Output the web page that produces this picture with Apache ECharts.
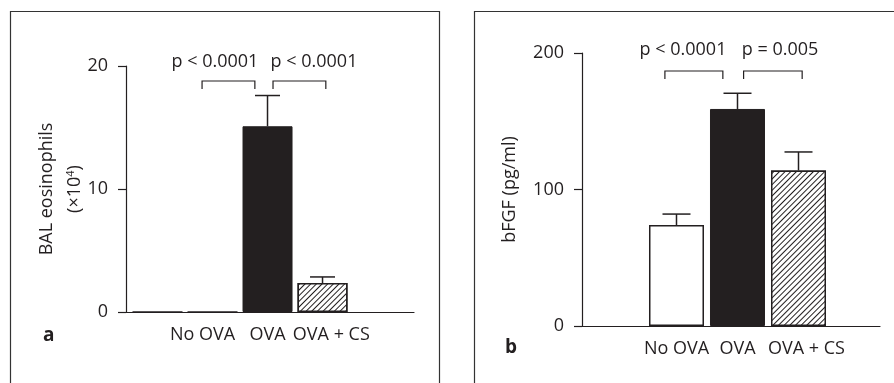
<!DOCTYPE html>
<html>
<head>
<meta charset="utf-8">
<script src="https://cdn.jsdelivr.net/npm/echarts@6/dist/echarts.min.js"></script>
<style>
  html, body { margin: 0; padding: 0; background: #fff; }
  #chart { width: 894px; height: 383px; }
</style>
</head>
<body>
<div id="chart"></div>
<script>
// groups
var categories = ['No OVA', 'OVA', 'OVA + CS'];
var barPos = [1, 2, 3, 4];

// panel a: BAL eosinophils (x10^4)
var eosMean = [0, 0, 15.1, 2.35];
var eosUpper = [0, 0, 17.6, 2.85];
var eosTicks = [0, 10, 20];

// panel b: bFGF (pg/ml), first slot is empty
var fgfMean = [null, 74, 159, 114];
var fgfUpper = [null, 82, 170.5, 127.5];
var fgfTicks = [0, 100, 200];

// p value brackets [from, to, height]
var eosBrackets = [[1.81, 2.77, 18.78], [3.1, 4.06, 18.78]];
var eosPText = ['p < 0.0001', 'p < 0.0001'];
var fgfBrackets = [[1.81, 2.76, 186.8], [3.1, 4.06, 186.8]];
var fgfPText = ['p < 0.0001', 'p = 0.005'];

var ink = '#231f20';
var font = '"Open Sans", "Noto Sans", sans-serif';
var fs = 18;

var hatch = {
  symbol: 'rect', symbolSize: 1, color: ink, backgroundColor: '#fff',
  dashArrayX: [1, 0], dashArrayY: [1, 2.2], rotation: -Math.PI / 4
};
// white, black, hatched bar styles
var styles = {
  open: { color: '#fff', borderColor: ink, borderWidth: 1.5 },
  solid: { color: ink, borderColor: ink, borderWidth: 1 },
  hatched: { color: '#fff', borderColor: ink, borderWidth: 1.5, decal: hatch }
};
var eosStyle = ['open', 'open', 'solid', 'hatched'];
var fgfStyle = ['open', 'open', 'solid', 'hatched'];

function barData(mean, st) {
  var out = [];
  for (var i = 0; i < mean.length; i++) {
    if (mean[i] == null) continue;
    out.push({ value: [barPos[i], mean[i]], itemStyle: styles[st[i]] });
  }
  return out;
}
function errData(mean, upper) {
  var out = [];
  for (var i = 0; i < mean.length; i++) {
    if (mean[i] == null || upper[i] <= mean[i]) continue;
    out.push([barPos[i], mean[i], upper[i]]);
  }
  return out;
}
function errSeries(idx, data, cap) {
  return {
    type: 'custom', xAxisIndex: idx, yAxisIndex: idx, data: data, clip: false, z: 1,
    renderItem: function (params, api) {
      var lo = api.coord([api.value(0), api.value(1)]);
      var hi = api.coord([api.value(0), api.value(2)]);
      var st = { stroke: ink, lineWidth: 1.5 };
      return { type: 'group', children: [
        { type: 'line', shape: { x1: lo[0], y1: lo[1], x2: hi[0], y2: hi[1] }, style: st },
        { type: 'line', shape: { x1: hi[0] - cap / 2, y1: hi[1], x2: hi[0] + cap / 2, y2: hi[1] }, style: st }
      ] };
    }
  };
}
// bracket + its p value text; textX is where the text is centred
function bracketSeries(idx, br, txt, textX, dy) {
  var data = br.map(function (b, i) { return [b[0], b[1], b[2], textX[i]]; });
  return {
    type: 'custom', xAxisIndex: idx, yAxisIndex: idx, data: data, clip: false,
    renderItem: function (params, api) {
      var a = api.coord([api.value(0), api.value(2)]);
      var b = api.coord([api.value(1), api.value(2)]);
      var t = api.coord([api.value(3), api.value(2)]);
      return { type: 'group', children: [
        { type: 'polyline', shape: { points: [[a[0], a[1] + 8], a, b, [b[0], b[1] + 8]] },
          style: { stroke: ink, lineWidth: 1.2, fill: null } },
        { type: 'text', x: t[0], y: t[1] + dy,
          style: { text: txt[params.dataIndex], fill: ink, font: fs + 'px ' + font,
            textAlign: 'center', textVerticalAlign: 'middle' } }
      ] };
    }
  };
}
function xAxis(idx, min, max, labelPos) {
  return {
    type: 'value', gridIndex: idx, min: min, max: max,
    splitLine: { show: false }, axisTick: { show: false },
    axisLine: { lineStyle: { color: ink, width: 1.2 } },
    axisLabel: {
      customValues: labelPos, margin: 14, color: ink, fontFamily: font, fontSize: fs,
      formatter: function (v) { return categories[labelPos.indexOf(v)]; }
    }
  };
}
function yAxis(idx, ticks, name, gap) {
  return {
    type: 'value', gridIndex: idx, min: ticks[0], max: ticks[ticks.length - 1],
    interval: ticks[1] - ticks[0],
    splitLine: { show: false },
    axisLine: { show: true, lineStyle: { color: ink, width: 1.2 } },
    axisTick: { show: true, length: 8, lineStyle: { color: ink, width: 1.2 } },
    axisLabel: { margin: 18, color: ink, fontFamily: font, fontSize: fs },
    name: name, nameLocation: 'middle', nameGap: gap,
    nameTextStyle: { color: ink, fontFamily: font, fontSize: fs,
      rich: {
        t: { fontSize: fs, color: ink, fontFamily: font },
        s: { fontSize: 9, color: ink, fontFamily: font },
        sup: { fontSize: 11, verticalAlign: 'top', padding: [0, 0, 8, 0], color: ink, fontFamily: font }
      } }
  };
}

var chart = echarts.init(document.getElementById('chart'));
chart.setOption({
  animation: false,
  backgroundColor: '#fff',
  title: [
    { text: 'a', left: 38, top: 321, textStyle: { fontFamily: font, fontSize: 19, fontWeight: 'bold', color: ink } },
    { text: 'b', left: 500, top: 333, textStyle: { fontFamily: font, fontSize: 19, fontWeight: 'bold', color: ink } }
  ],
  graphic: [
    { type: 'rect', shape: { x: 10.5, y: 11.5, width: 429, height: 420 }, style: { fill: null, stroke: '#333', lineWidth: 1.2 } },
    { type: 'rect', shape: { x: 474.5, y: 11.5, width: 440, height: 420 }, style: { fill: null, stroke: '#333', lineWidth: 1.2 } }
  ],
  grid: [
    { left: 126, right: 480, top: 66, bottom: 71 },
    { left: 582, right: 14, top: 53, bottom: 57 }
  ],
  xAxis: [
    xAxis(0, 0.4273, 5.663, [1.82, 3, 4.16]),
    xAxis(1, 0.451, 5.336, [2, 3, 4.13])
  ],
  yAxis: [
    yAxis(0, eosTicks, '{t|BAL eosinophils}\n{s| }\n{t|(×10}{sup|4}{t|)}', 37),
    yAxis(1, fgfTicks, 'bFGF (pg/ml)', 63)
  ],
  series: [
    { type: 'bar', xAxisIndex: 0, yAxisIndex: 0, barWidth: 50, data: barData(eosMean, eosStyle), z: 2 },
    errSeries(0, errData(eosMean, eosUpper), 25),
    bracketSeries(0, eosBrackets, eosPText, [2.045, 3.845], -19),
    { type: 'bar', xAxisIndex: 1, yAxisIndex: 1, barWidth: 55, data: barData(fgfMean, fgfStyle), z: 2 },
    errSeries(1, errData(fgfMean, fgfUpper), 28),
    bracketSeries(1, fgfBrackets, fgfPText, [2.107, 3.697], -21)
  ]
});
</script>
</body>
</html>
